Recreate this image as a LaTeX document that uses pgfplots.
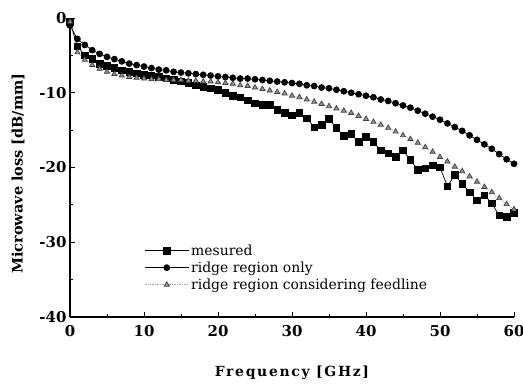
\documentclass[border=0pt]{standalone}
\usepackage{pgfplots}
\pgfplotsset{compat=1.18}
\usepackage{fontspec}
\setmainfont{DejaVu Serif}
\begin{document}
\begin{tikzpicture}[x=1bp,y=1bp]
\path[use as bounding box] (-70bp,-68bp) rectangle (453bp,317bp);
\begin{axis}[
  scale only axis, width=444bp, height=299bp,
  at={(0,0)}, anchor=south west,
  xmin=0, xmax=60, ymin=-40, ymax=0,
  axis lines*=left,
  axis line style={-, line width=1.3pt},
  xtick={0,10,...,60}, ytick={-40,-30,...,0},
  minor tick num=1,
  tick align=inside,
  major tick length=5bp, minor tick length=3bp,
  tick style={line width=1pt, black},
  /pgf/number format/assume math mode=true,
  ticklabel style={font=\bfseries\fontsize{15}{15}\selectfont},
  xticklabel style={yshift=-5bp},
  xlabel={\addfontfeature{LetterSpace=12}Frequency [GHz]},
  ylabel={Microwave loss [dB/mm]},
  label style={font=\bfseries\fontsize{14}{14}\selectfont},
  xlabel style={yshift=-22bp},
  ylabel style={font=\bfseries\fontsize{14.5}{14.5}\selectfont, yshift=8bp, xshift=-6bp},
  legend style={draw=none, fill=none, at={(0.165,0.253)}, anchor=north west,
    font=\fontsize{14}{14}\selectfont, row sep=1bp, inner sep=1bp},
  legend cell align=left,
  legend image code/.code={\draw[mark repeat=2,mark phase=2,#1] plot coordinates {(0bp,0bp) (22bp,0bp) (44bp,0bp)};},
]
\addplot[black, line width=0.7pt, mark=square*, mark size=3.3pt, mark options={solid}] coordinates {
(0,-0.5)(1,-3.8)(2,-5.0)(3,-5.5)(4,-6.1)(5,-6.4)(6,-6.7)(7,-7.0)(8,-7.2)(9,-7.4)(10,-7.6)
(11,-7.7)(12,-7.9)(13,-8.1)(14,-8.3)(15,-8.5)(16,-8.7)(17,-9.0)(18,-9.2)(19,-9.4)(20,-9.6)
(21,-10.0)(22,-10.4)(23,-10.6)(24,-11.0)(25,-11.4)(26,-11.6)(27,-11.6)(28,-12.3)(29,-12.7)(30,-13.0)
(31,-12.7)(32,-13.4)(33,-14.6)(34,-14.3)(35,-13.5)(36,-14.7)(37,-15.8)(38,-15.5)(39,-16.6)(40,-15.9)
(41,-16.6)(42,-17.7)(43,-18.1)(44,-18.6)(45,-17.7)(46,-19.0)(47,-20.3)(48,-20.1)(49,-19.7)(50,-20.0)
(51,-22.5)(52,-21.0)(53,-22.2)(54,-23.3)(55,-24.4)(56,-23.7)(57,-24.8)(58,-26.4)(59,-26.6)(60,-26.1)
};
\addlegendentry{mesured}
\addplot[black, line width=0.7pt, mark=*, mark size=3pt, mark options={solid}] coordinates {
(0,-1.0)(1,-2.8)(2,-3.6)(3,-4.3)(4,-4.8)(5,-5.2)(6,-5.5)(7,-5.8)(8,-6.1)(9,-6.3)(10,-6.5)
(11,-6.7)(12,-6.9)(13,-7.0)(14,-7.2)(15,-7.3)(16,-7.4)(17,-7.5)(18,-7.6)(19,-7.7)(20,-7.8)
(21,-7.9)(22,-8.0)(23,-8.1)(24,-8.1)(25,-8.2)(26,-8.3)(27,-8.4)(28,-8.5)(29,-8.6)(30,-8.7)
(31,-8.8)(32,-9.0)(33,-9.1)(34,-9.3)(35,-9.4)(36,-9.6)(37,-9.8)(38,-10.0)(39,-10.2)(40,-10.4)
(41,-10.6)(42,-10.9)(43,-11.1)(44,-11.4)(45,-11.7)(46,-12.0)(47,-12.4)(48,-12.8)(49,-13.2)(50,-13.6)
(51,-14.1)(52,-14.6)(53,-15.1)(54,-15.7)(55,-16.3)(56,-16.9)(57,-17.5)(58,-18.2)(59,-18.9)(60,-19.5)
};
\addlegendentry{ridge region only}
\addplot[gray!70, densely dotted, line width=0.7pt, mark=triangle*, mark size=3pt, mark options={solid, fill=gray!85, draw=black!75}] coordinates {
(0,-0.5)(1,-4.6)(2,-5.6)(3,-6.3)(4,-6.8)(5,-7.2)(6,-7.5)(7,-7.7)(8,-7.9)(9,-8.0)(10,-8.1)
(11,-8.2)(12,-8.2)(13,-8.3)(14,-8.3)(15,-8.3)(16,-8.4)(17,-8.4)(18,-8.5)(19,-8.5)(20,-8.6)
(21,-8.7)(22,-8.8)(23,-9.0)(24,-9.1)(25,-9.3)(26,-9.5)(27,-9.7)(28,-9.9)(29,-10.1)(30,-10.4)
(31,-10.6)(32,-10.9)(33,-11.2)(34,-11.5)(35,-11.8)(36,-12.1)(37,-12.4)(38,-12.7)(39,-13.1)(40,-13.5)
(41,-13.9)(42,-14.3)(43,-14.7)(44,-15.2)(45,-15.7)(46,-16.2)(47,-16.7)(48,-17.3)(49,-17.9)(50,-18.6)
(51,-19.2)(52,-19.9)(53,-20.5)(54,-21.2)(55,-21.9)(56,-22.6)(57,-23.3)(58,-24.1)(59,-24.9)(60,-25.6)
};
\addlegendentry{ridge region considering feedline}
\end{axis}
\end{tikzpicture}
\end{document}
